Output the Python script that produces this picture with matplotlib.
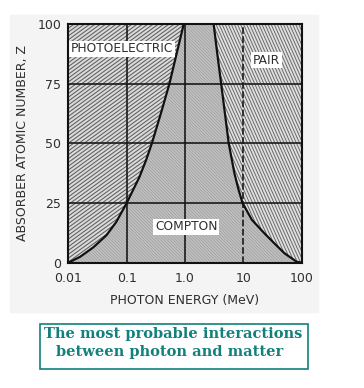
import numpy as np
import matplotlib.pyplot as plt
from matplotlib.patches import Rectangle
from matplotlib.collections import LineCollection
from matplotlib.ticker import NullLocator

# boundary photoelectric / compton (MeV, Z)
photo_e = [0.01, 0.016, 0.027, 0.045, 0.066, 0.1, 0.166, 0.215, 0.27, 0.32,
           0.39, 0.54, 0.74, 0.95]
photo_z = [0, 2.5, 6.5, 11.5, 17, 25, 36, 43, 50, 56, 63, 75, 89, 100]

# boundary compton / pair
pair_e = [3.1, 3.56, 4.17, 4.81, 5.62, 7.03, 8.3, 9.7, 14, 23, 35, 51, 82, 100]
pair_z = [100, 88, 75, 63, 50, 37.5, 30.5, 25, 18, 12.3, 7.8, 3.9, 0.4, 0]

energy_ticks = [0.01, 0.1, 1, 10, 100]
energy_labels = ['0.01', '0.1', '1.0', '10', '100']
z_ticks = [0, 25, 50, 75, 100]

ink = '#2e2e2e'
teal = '#12807c'

AX_W, AX_H = 233.4, 238.4


def hatch(ax, patch, angle, spacing, color, lw):
    # straight line hatching at any angle, clipped to the region
    t = np.radians(angle)
    d = np.array([np.cos(t), np.sin(t)])
    n = np.array([-np.sin(t), np.cos(t)])
    L = np.hypot(AX_W, AX_H)
    c = np.array([AX_W / 2, AX_H / 2])
    segs = []
    for o in np.arange(-L / 2, L / 2, spacing):
        p0 = c + n * o - d * L / 2
        p1 = c + n * o + d * L / 2
        segs.append([(p0[0] / AX_W, p0[1] / AX_H), (p1[0] / AX_W, p1[1] / AX_H)])
    lc = LineCollection(segs, colors=color, linewidths=lw, transform=ax.transAxes, zorder=2)
    ax.add_collection(lc)
    lc.set_clip_path(patch)


fig = plt.figure(figsize=(3.64, 3.88), dpi=100)
fig.patches.append(Rectangle((10 / 364, 1 - 312 / 388), 308 / 364, 297 / 388,
                             transform=fig.transFigure, color='#f4f4f4', zorder=-5))

ax = fig.add_axes([68.3 / 364, 1 - 262.7 / 388, AX_W / 364, AX_H / 388])
ax.set_zorder(2)
ax.set_xscale('log')
ax.set_xlim(0.01, 100)
ax.set_ylim(0, 100)
ax.set_facecolor('white')

# regions
photo_poly = list(zip(photo_e, photo_z)) + [(0.01, 100)]
compton_poly = list(zip(photo_e, photo_z)) + list(zip(pair_e, pair_z))
pair_poly = list(zip(pair_e, pair_z)) + [(100, 100)]

px, py = zip(*photo_poly)
p_photo, = ax.fill(px, py, facecolor='#dadada', linewidth=0, zorder=1)
cx, cy = zip(*compton_poly)
p_compton, = ax.fill(cx, cy, facecolor='#c0c0c0', linewidth=0, zorder=1)
rx, ry = zip(*pair_poly)
p_pair, = ax.fill(rx, ry, facecolor='#e0e0e0', linewidth=0, zorder=1)

hatch(ax, p_photo, 36, 3.1, '#5e5e5e', 0.75)
hatch(ax, p_compton, -45, 2.2, '#9c9c9c', 0.45)
hatch(ax, p_pair, -66, 2.8, '#6a6a6a', 0.7)

# grid
for e in [0.1, 1]:
    ax.axvline(e, color='#1a1a1a', lw=1.2, zorder=3)
ax.axvline(10, color='#1a1a1a', lw=1.2, ls=(0, (4, 1.5)), zorder=3)
for z in [25, 50, 75]:
    ax.axhline(z, color='#1a1a1a', lw=1.2, zorder=3)

ax.plot(photo_e, photo_z, color='#111111', lw=1.6, zorder=4)
ax.plot(pair_e, pair_z, color='#111111', lw=1.6, zorder=4)

box = dict(boxstyle='square,pad=0.15', facecolor='white', edgecolor='none')
ax.text(0.011, 89.7, 'PHOTOELECTRIC', fontsize=8.8, color=ink, ha='left', va='center',
        bbox=box, zorder=5)
ax.text(25, 85, 'PAIR', fontsize=8.8, color=ink, ha='center', va='center', bbox=box, zorder=5)
ax.text(1.05, 15, 'COMPTON', fontsize=8.8, color=ink, ha='center', va='center', bbox=box, zorder=5)

for s in ax.spines.values():
    s.set_linewidth(1.5)
    s.set_color('#111111')
    s.set_zorder(6)

ax.set_xticks(energy_ticks)
ax.set_xticklabels(energy_labels)
ax.xaxis.set_minor_locator(NullLocator())
ax.set_yticks(z_ticks)
ax.tick_params(axis='x', length=0, pad=7, labelsize=9, labelcolor=ink)
ax.tick_params(axis='y', length=0, pad=5, labelsize=9, labelcolor=ink)
ax.set_xlabel('PHOTON ENERGY (MeV)', fontsize=9, color=ink, labelpad=6)
ax.set_ylabel('ABSORBER ATOMIC NUMBER, Z', fontsize=9, color=ink, labelpad=6)

# caption box
fig.patches.append(Rectangle((40 / 364, 1 - 369 / 388), 268 / 364, 45 / 388,
                             transform=fig.transFigure, facecolor='white',
                             edgecolor=teal, lw=1.2, zorder=1))
fig.text(173 / 364, 1 - 334 / 388, 'The most probable interactions', fontsize=10.5,
         family='DejaVu Serif', weight='bold', color=teal, ha='center', va='center')
fig.text(170 / 364, 1 - 352 / 388, 'between photon and matter', fontsize=10.5,
         family='DejaVu Serif', weight='bold', color=teal, ha='center', va='center')

fig.savefig('out.png', dpi=100)
